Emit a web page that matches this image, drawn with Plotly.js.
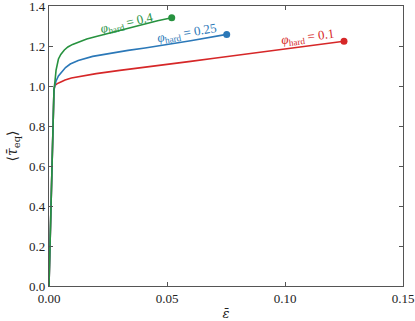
<!DOCTYPE html>
<html>
<head>
<meta charset="utf-8">
<script src="https://cdn.plot.ly/plotly-3.0.1.min.js"></script>
<style>
  html, body { margin: 0; padding: 0; background: #fff; }
  #chart { width: 415px; height: 321px; }
</style>
</head>
<body>
<div id="chart"></div>
<script>
// strain / stress pairs, one set per hard phase fraction
var strainLow = [0, 0.0008, 0.0016, 0.0021, 0.0025, 0.0035, 0.005, 0.0068, 0.0095, 0.0124, 0.02, 0.03, 0.0407, 0.05, 0.06, 0.07, 0.08, 0.09, 0.1, 0.11, 0.125];
var stressLow = [0, 0.42, 0.85, 0.98, 1.003, 1.012, 1.02, 1.03, 1.04, 1.047, 1.062, 1.078, 1.093, 1.107, 1.123, 1.139, 1.154, 1.17, 1.186, 1.201, 1.224];

var strainMid = [0, 0.0008, 0.0016, 0.0021, 0.0025, 0.003, 0.004, 0.0054, 0.007, 0.009, 0.0124, 0.0185, 0.0266, 0.0335, 0.0407, 0.05, 0.06, 0.0753];
var stressMid = [0, 0.42, 0.85, 0.98, 1.005, 1.025, 1.05, 1.072, 1.092, 1.11, 1.128, 1.148, 1.165, 1.178, 1.19, 1.207, 1.226, 1.258];

var strainHigh = [0, 0.0008, 0.0016, 0.0021, 0.0025, 0.003, 0.004, 0.005, 0.0065, 0.008, 0.01, 0.0124, 0.016, 0.02, 0.0266, 0.0335, 0.0407, 0.046, 0.052];
var stressHigh = [0, 0.42, 0.85, 0.98, 1.02, 1.08, 1.135, 1.158, 1.18, 1.195, 1.208, 1.22, 1.235, 1.248, 1.268, 1.29, 1.313, 1.326, 1.341];

var labels = ["0.1", "0.25", "0.4"];
var colors = ["#d62728", "#2b78b8", "#27923f"];

var xs = [strainLow, strainMid, strainHigh];
var ys = [stressLow, stressMid, stressHigh];

var traces = [];
var annotations = [];
// label centre positions and angles along each curve
var labelPos = [[0.1095, 1.245, -7], [0.0585, 1.262, -10], [0.033, 1.313, -13]];

for (let i = 0; i < 3; i++) {
  var n = xs[i].length;
  traces.push({
    x: xs[i], y: ys[i], mode: 'lines', type: 'scatter',
    line: {color: colors[i], width: 1.6}, hoverinfo: 'skip'
  });
  // end point marker
  traces.push({
    x: [xs[i][n - 1]], y: [ys[i][n - 1]], mode: 'markers', type: 'scatter',
    marker: {color: colors[i], size: 7}, hoverinfo: 'skip'
  });
  annotations.push({
    x: labelPos[i][0], y: labelPos[i][1], xref: 'x', yref: 'y',
    text: '<i>φ</i><sub>hard</sub> = ' + labels[i],
    showarrow: false, textangle: labelPos[i][2],
    font: {family: 'Liberation Serif, serif', size: 13, color: colors[i]}
  });
}

var axisStyle = {
  showline: true, linecolor: '#555', linewidth: 1.2, mirror: 'ticks',
  ticks: 'inside', ticklen: 4, tickcolor: '#555', tickwidth: 1,
  showgrid: false, zeroline: false, ticklabeloverflow: 'allow',
  tickfont: {family: 'Liberation Serif, serif', size: 13, color: '#222'}
};

var layout = {
  width: 415, height: 321,
  margin: {l: 49, r: 12, t: 6, b: 35},
  paper_bgcolor: '#fff', plot_bgcolor: '#fff',
  showlegend: false,
  xaxis: Object.assign({}, axisStyle, {
    range: [0, 0.15], tickvals: [0, 0.05, 0.1, 0.15],
    ticktext: ['0.00', '0.05', '0.10', '0.15'],
    title: {text: '<i>ε̄</i>', standoff: 6,
      font: {family: 'DejaVu Serif, serif', size: 13, color: '#222'}}
  }),
  yaxis: Object.assign({}, axisStyle, {
    range: [0, 1.4], tickvals: [0, 0.2, 0.4, 0.6, 0.8, 1.0, 1.2, 1.4],
    ticktext: ['0.0', '0.2', '0.4', '0.6', '0.8', '1.0', '1.2', '1.4'],
    title: {text: '⟨<i>τ̄</i><sub>eq</sub>⟩', standoff: 8,
      font: {family: 'DejaVu Serif, serif', size: 14, color: '#222'}}
  }),
  annotations: annotations
};

Plotly.newPlot('chart', traces, layout, {staticPlot: true, displayModeBar: false});
</script>
</body>
</html>
